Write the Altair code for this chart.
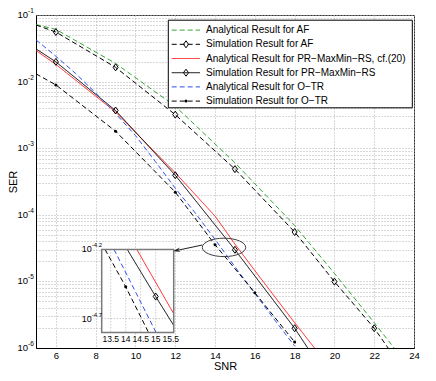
import altair as alt
import pandas as pd

FONT = "Liberation Sans"

# ---------------- data ----------------
series_names = [
    "Analytical Result for AF",
    "Simulation Result for AF",
    "Analytical Result for PR\u2212MaxMin\u2212RS, cf.(20)",
    "Simulation Result for PR\u2212MaxMin\u2212RS",
    "Analytical Result for O\u2212TR",
    "Simulation Result for O\u2212TR",
]
series_colors = ["#33a532", "#000000", "#ff1a1a", "#000000", "#3050f0", "#000000"]
series_dashes = [[5, 3], [5, 3], [1, 0], [1, 0], [5, 3], [5, 3]]
series_markers = ["", "diamond", "", "diamond", "", "dot"]

snr_af_analytical = [5, 6, 9, 12, 15, 18, 20, 22, 23.0]
ser_af_analytical = [0.0719, 0.0608, 0.01875, 0.00427, 0.000603, 6.92e-5, 1.32e-5, 2.40e-6, 1.0e-6]
snr_af_simulation = [5, 6, 9, 12, 15, 18, 20, 22, 22.7]
ser_af_simulation = [0.0708, 0.0555, 0.01637, 0.00319, 0.000485, 5.52e-5, 9.93e-6, 1.98e-6, 1.0e-6]
af_marker_snr = [6, 9, 12, 15, 18, 20, 22]

snr_pr_analytical = [5, 6, 9, 12, 14, 15, 16, 18, 19.0]
ser_pr_analytical = [0.0293, 0.0181, 0.00350, 0.000427, 9.55e-5, 3.63e-5, 1.45e-5, 2.40e-6, 1.0e-6]
snr_pr_simulation = [5, 6, 9, 12, 15, 18, 18.66]
ser_pr_simulation = [0.0310, 0.01977, 0.00368, 0.000393, 2.98e-5, 1.98e-6, 1.0e-6]
pr_marker_snr = [6, 9, 12, 15, 18]

snr_otr_analytical = [5, 6, 7, 8, 9, 10, 11, 12, 13, 14, 15, 16, 17, 18]
ser_otr_analytical = [0.04246, 0.02399, 0.01318, 0.00676, 0.00331, 0.00155, 0.000631,
                      0.000251, 0.000107, 4.27e-5, 1.66e-5, 6.61e-6, 2.63e-6, 1.07e-6]
snr_otr_simulation = [5, 6, 9, 12, 14, 16, 18]
ser_otr_simulation = [0.01309, 0.00891, 0.00180, 0.000219, 3.55e-5, 6.76e-6, 1.23e-6]
otr_marker_snr = [6, 9, 12, 14, 16, 18]

# inset (zoomed window 13.2..15.6 dB, 10^-4.8..10^-4.2)
inset_red_snr = [14.37, 15.6]
inset_red_ser = [6.31e-5, 2.163e-5]
inset_black_snr = [14.05, 15.0, 15.6]
inset_black_ser = [6.31e-5, 2.88e-5, 1.78e-5]
inset_blue_snr = [13.61, 15.01]
inset_blue_ser = [6.31e-5, 1.585e-5]
inset_otr_snr = [13.31, 14.0, 14.76]
inset_otr_ser = [6.31e-5, 3.39e-5, 1.585e-5]
inset_diamond_snr, inset_diamond_ser = [15.0], [2.88e-5]
inset_dot_snr, inset_dot_ser = [14.0], [3.39e-5]

x_ticks = [6, 8, 10, 12, 14, 16, 18, 20, 22, 24]
y_label_values = [1e-1, 1e-2, 1e-3, 1e-4, 1e-5, 1e-6]
y_label_exponents = ["-1", "-2", "-3", "-4", "-5", "-6"]
y_grid_mult = [1, 2, 3, 4, 5, 6, 7, 8, 9]
y_grid_exps = [-6, -5, -4, -3, -2]

inset_x_ticks = [13.5, 14, 14.5, 15, 15.5]
inset_x_grid = [13.5, 14, 14.5, 15]
inset_y_grid = [10 ** -4.7]
inset_y_label_values = [10 ** -4.2, 10 ** -4.7]
inset_y_label_exponents = ["-4.2", "-4.7"]

# zoom annotation (ellipse centre / arrow ends in data units)
ellipse_snr, ellipse_ser = [14.45], [3.24e-5]
arrow_from_snr, arrow_from_ser = [13.36], [3.52e-5]
arrow_to_snr, arrow_to_ser = [12.06], [2.91e-5]

# ---------------- layout (pixels inside the plot area) ----------------
W, H = 378, 333
INSET_L, INSET_R, INSET_T, INSET_B = 65.7, 137.7, 234.4, 317.4
LEG_L, LEG_R, LEG_T, LEG_B = 132.3, 376.3, 5.2, 92.8
LEG_ROW0, LEG_DY = 15.1, 14.2

# ---------------- tables ----------------
curves = [
    (series_names[0], snr_af_analytical, ser_af_analytical),
    (series_names[1], snr_af_simulation, ser_af_simulation),
    (series_names[2], snr_pr_analytical, ser_pr_analytical),
    (series_names[3], snr_pr_simulation, ser_pr_simulation),
    (series_names[4], snr_otr_analytical, ser_otr_analytical),
    (series_names[5], snr_otr_simulation, ser_otr_simulation),
]
inset_curves = [
    (series_names[2], inset_red_snr, inset_red_ser),
    (series_names[3], inset_black_snr, inset_black_ser),
    (series_names[4], inset_blue_snr, inset_blue_ser),
    (series_names[5], inset_otr_snr, inset_otr_ser),
]


def long_table(cs):
    rows = []
    for name, xs, ys in cs:
        for i, (a, b) in enumerate(zip(xs, ys)):
            rows.append({"series": name, "idx": i, "snr": a, "ser": b})
    return pd.DataFrame(rows)


lines_df = long_table(curves)
inset_lines_df = long_table(inset_curves)

lookup = {name: dict(zip(xs, ys)) for name, xs, ys in curves}
diamond_df = pd.DataFrame(
    [{"snr": s, "ser": lookup[series_names[1]][s]} for s in af_marker_snr]
    + [{"snr": s, "ser": lookup[series_names[3]][s]} for s in pr_marker_snr])
dot_df = pd.DataFrame([{"snr": s, "ser": lookup[series_names[5]][s]} for s in otr_marker_snr])

y_grid = [m * 10.0 ** e for e in y_grid_exps for m in y_grid_mult] + [1e-1]
ylab_df = pd.DataFrame({"ser": y_label_values, "exp": y_label_exponents})

DIAMOND = "M0,-1L0.72,0L0,1L-0.72,0Z"
ELLIPSE = "M-1,0A1,0.424,0,1,1,1,0A1,0.424,0,1,1,-1,0Z"
ARROWHEAD = "M-1,0L1,-0.55L0.35,0L1,0.55Z"
GRID = "#b0b0b0"

color_enc = alt.Color("series:N", scale=alt.Scale(domain=series_names, range=series_colors), legend=None)
dash_enc = alt.StrokeDash("series:N", scale=alt.Scale(domain=series_names, range=series_dashes), legend=None)
one = pd.DataFrame({"a": [0]})

# ---------------- main panel ----------------
xs_main = alt.Scale(domain=[5, 24], nice=False)
ys_main = alt.Scale(type="log", domain=[1e-6, 1e-1], nice=False)
x_axis = alt.Axis(values=x_ticks, grid=True, gridDash=[1, 2], gridColor=GRID, ticks=False,
                  domainColor="#000000", labelFontSize=9.5, labelPadding=2, labelFlush=False,
                  labelOverlap=False, labelColor="#000000", title="SNR", titleFontSize=11,
                  titleFontWeight="normal", titlePadding=1, titleColor="#000000")
y_axis = alt.Axis(values=y_grid, grid=True, gridDash=[1, 2], gridColor=GRID, ticks=False,
                  labels=False, domainColor="#000000", title="SER", titleFontSize=11,
                  titleFontWeight="normal", titlePadding=18, titleColor="#000000")
X = alt.X("snr:Q", scale=xs_main, axis=x_axis)
Y = alt.Y("ser:Q", scale=ys_main, axis=y_axis)

main_lines = alt.Chart(lines_df).mark_line(strokeWidth=1).encode(
    x=X, y=Y, color=color_enc, strokeDash=dash_enc, detail="series:N", order="idx:Q")
main_diamonds = alt.Chart(diamond_df).mark_point(shape=DIAMOND, filled=False, size=49, strokeWidth=1,
                                                  color="#000000", opacity=1).encode(x=X, y=Y)
main_dots = alt.Chart(dot_df).mark_point(shape="circle", filled=True, size=9, color="#000000",
                                          opacity=1).encode(x=X, y=Y)

ellipse = alt.Chart(pd.DataFrame({"snr": ellipse_snr, "ser": ellipse_ser})).mark_point(
    shape=ELLIPSE, filled=False, size=1884, strokeWidth=1, color="#404040", opacity=1).encode(x=X, y=Y)
arrow = alt.Chart(pd.DataFrame({"snr": arrow_from_snr, "ser": arrow_from_ser,
                                "snr2": arrow_to_snr, "ser2": arrow_to_ser})).mark_rule(
    color="#202020", strokeWidth=1).encode(x=X, y=Y, x2="snr2:Q", y2="ser2:Q")
arrow_head = alt.Chart(pd.DataFrame({"snr": arrow_to_snr, "ser": arrow_to_ser})).mark_point(
    shape=ARROWHEAD, filled=True, size=64, angle=348, color="#202020", opacity=1).encode(x=X, y=Y)

ylab_base = alt.Chart(ylab_df).mark_text(align="right", baseline="middle", fontSize=9.5, dx=-8,
                                         font=FONT, color="#000000").encode(
    x=alt.value(0), y=Y, text=alt.value("10"))
ylab_exp = alt.Chart(ylab_df).mark_text(align="left", baseline="middle", fontSize=6.5, dx=-8, dy=-4,
                                        font=FONT, color="#000000").encode(
    x=alt.value(0), y=Y, text="exp:N")

# manual legend
leg_layers = [alt.Chart(one).mark_rect(fill="#ffffff", stroke="#000000", strokeWidth=1).encode(
    x=alt.value(LEG_L), x2=alt.value(LEG_R), y=alt.value(LEG_T), y2=alt.value(LEG_B))]
for i, name in enumerate(series_names):
    yy = LEG_ROW0 + i * LEG_DY
    d = pd.DataFrame({"label": [name]})
    leg_layers.append(alt.Chart(d).mark_rule(color=series_colors[i], strokeDash=series_dashes[i],
                                             strokeWidth=1).encode(
        x=alt.value(LEG_L + 3.4), x2=alt.value(LEG_L + 31.7), y=alt.value(yy)))
    if series_markers[i] == "diamond":
        leg_layers.append(alt.Chart(d).mark_point(shape=DIAMOND, filled=False, size=49, strokeWidth=1,
                                                  color="#000000", opacity=1).encode(
            x=alt.value(LEG_L + 17.7), y=alt.value(yy)))
    elif series_markers[i] == "dot":
        leg_layers.append(alt.Chart(d).mark_point(shape="circle", filled=True, size=9,
                                                  color="#000000", opacity=1).encode(
            x=alt.value(LEG_L + 17.7), y=alt.value(yy)))
    leg_layers.append(alt.Chart(d).mark_text(align="left", baseline="middle", fontSize=10, font=FONT,
                                             color="#000000").encode(
        x=alt.value(LEG_L + 37.7), y=alt.value(yy), text="label:N"))

main_group = alt.layer(main_lines, main_diamonds, main_dots, ellipse, arrow, arrow_head,
                       *leg_layers, ylab_base, ylab_exp)

# ---------------- inset (own scales mapped onto its pixel box) ----------------
xs_in = alt.Scale(domain=[13.2, 15.6], range=[INSET_L, INSET_R], nice=False, zero=False)
ys_in = alt.Scale(type="log", domain=[10 ** -4.8, 10 ** -4.2], range=[INSET_B, INSET_T], nice=False)
XI = alt.X("snr:Q", scale=xs_in, axis=None)
YI = alt.Y("ser:Q", scale=ys_in, axis=None)

in_bg = alt.Chart(one).mark_rect(fill="#ffffff").encode(
    x=alt.value(INSET_L), x2=alt.value(INSET_R), y=alt.value(INSET_T), y2=alt.value(INSET_B))
in_vgrid = alt.Chart(pd.DataFrame({"snr": inset_x_grid})).mark_rule(
    color=GRID, strokeDash=[1, 2], strokeWidth=1).encode(
    x=XI, y=alt.value(INSET_T), y2=alt.value(INSET_B))
in_hgrid = alt.Chart(pd.DataFrame({"ser": inset_y_grid})).mark_rule(
    color=GRID, strokeDash=[1, 2], strokeWidth=1).encode(
    y=YI, x=alt.value(INSET_L), x2=alt.value(INSET_R))
in_lines = alt.Chart(inset_lines_df).mark_line(strokeWidth=1).encode(
    x=XI, y=YI, color=color_enc, strokeDash=dash_enc, detail="series:N", order="idx:Q")
in_diam = alt.Chart(pd.DataFrame({"snr": inset_diamond_snr, "ser": inset_diamond_ser})).mark_point(
    shape=DIAMOND, filled=False, size=49, strokeWidth=1, color="#000000", opacity=1).encode(x=XI, y=YI)
in_dot = alt.Chart(pd.DataFrame({"snr": inset_dot_snr, "ser": inset_dot_ser})).mark_point(
    shape="circle", filled=True, size=9, color="#000000", opacity=1).encode(x=XI, y=YI)
in_frame = alt.Chart(one).mark_rect(fill="#ffffff", fillOpacity=0, stroke="#7a7a7a", strokeWidth=1.5).encode(
    x=alt.value(INSET_L), x2=alt.value(INSET_R), y=alt.value(INSET_T), y2=alt.value(INSET_B))
in_xlab = alt.Chart(pd.DataFrame({"snr": inset_x_ticks,
                                  "lab": ["13.5", "14", "14.5", "15", "15.5"]})).mark_text(
    align="center", baseline="top", fontSize=8.5, font=FONT, color="#000000").encode(
    x=XI, y=alt.value(INSET_B + 3), text="lab:N")
in_ylab_df = pd.DataFrame({"ser": inset_y_label_values, "exp": inset_y_label_exponents})
in_ylab_base = alt.Chart(in_ylab_df).mark_text(align="right", baseline="middle", fontSize=9, dx=-10,
                                               font=FONT, color="#000000").encode(
    x=alt.value(INSET_L), y=YI, text=alt.value("10"))
in_ylab_exp = alt.Chart(in_ylab_df).mark_text(align="left", baseline="middle", fontSize=6, dx=-10, dy=-4,
                                              font=FONT, color="#000000").encode(
    x=alt.value(INSET_L), y=YI, text="exp:N")

inset_group = alt.layer(in_bg, in_vgrid, in_hgrid, in_lines, in_diam, in_dot, in_frame,
                        in_xlab, in_ylab_base, in_ylab_exp)

chart = alt.layer(main_group, inset_group).resolve_scale(
    x="independent", y="independent").properties(
    width=W, height=H,
    autosize=alt.AutoSizeParams(type="none"),
    padding={"left": 28, "top": 7, "right": 8, "bottom": 23},
).configure(font=FONT).configure_axis(labelFont=FONT, titleFont=FONT).configure_view(
    stroke="#303030", strokeWidth=1, fill="#ffffff")

chart.save("out.html", embed_options={"renderer": "svg", "actions": False})
